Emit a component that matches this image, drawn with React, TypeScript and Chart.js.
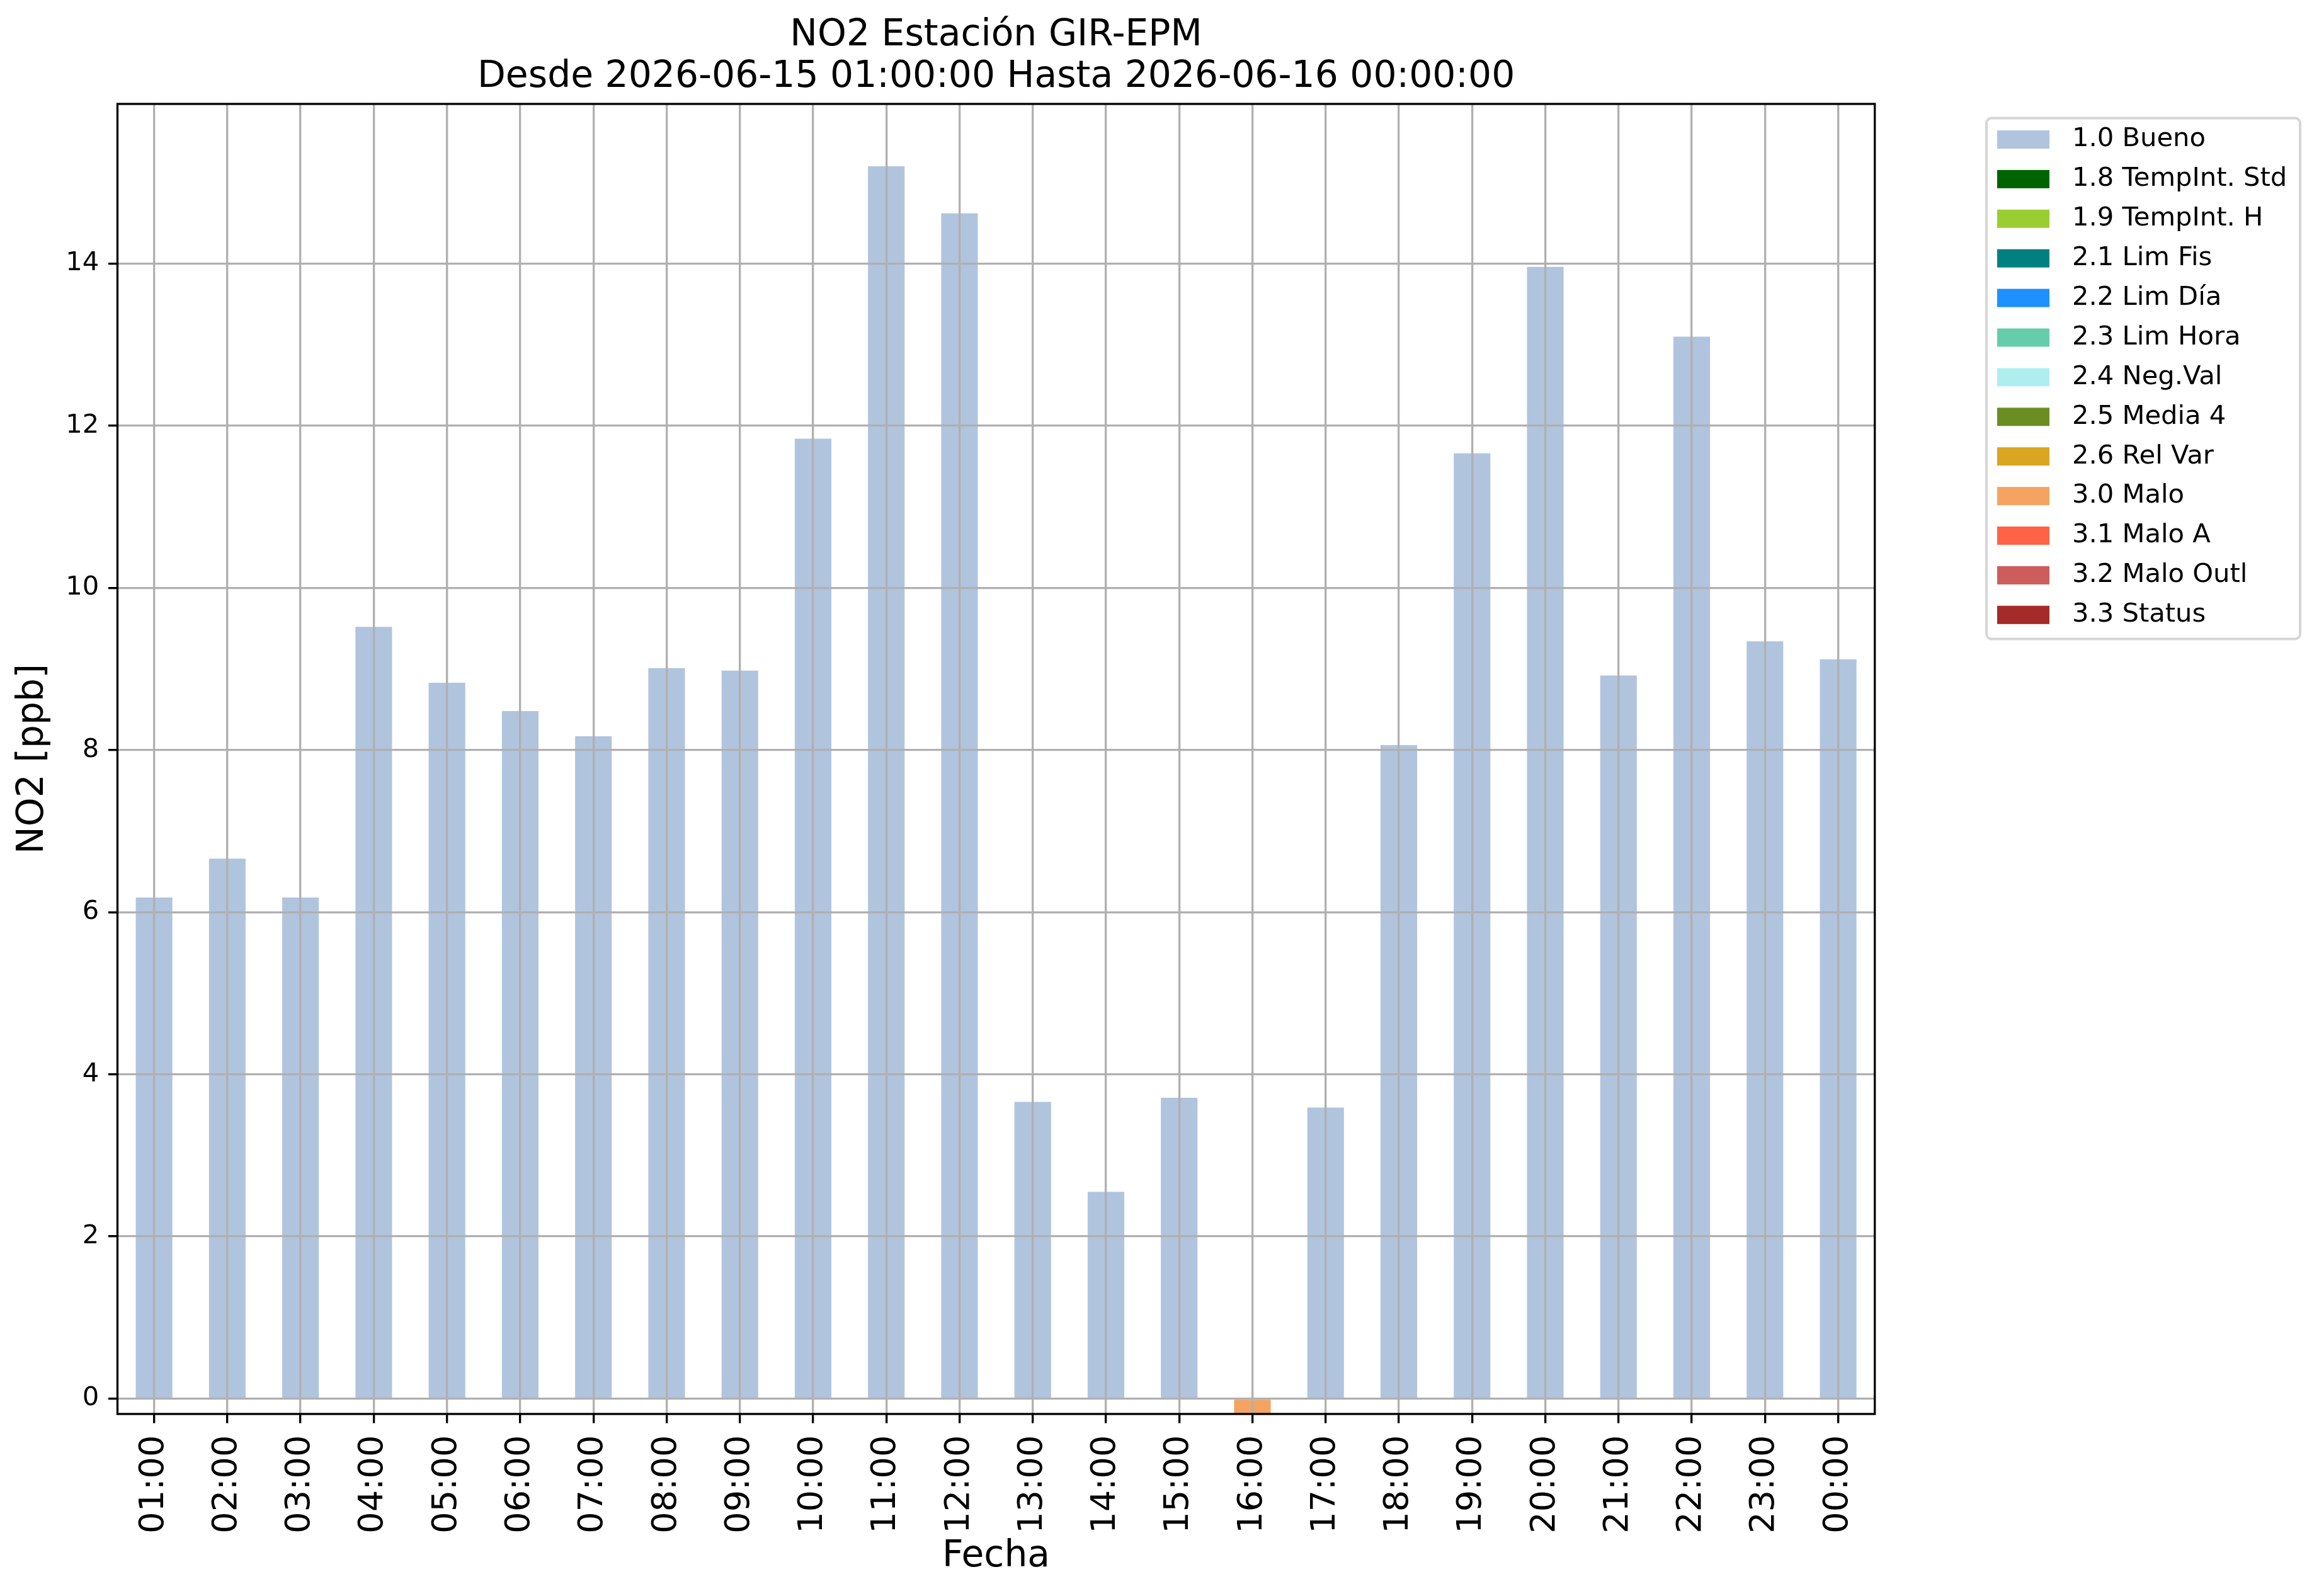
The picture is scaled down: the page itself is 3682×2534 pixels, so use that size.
import React, { useEffect, useRef } from 'react';
import { Chart, registerables } from 'chart.js';

Chart.register(...registerables);

// ---- data ----
const categories = [
  '01:00', '02:00', '03:00', '04:00', '05:00', '06:00', '07:00', '08:00',
  '09:00', '10:00', '11:00', '12:00', '13:00', '14:00', '15:00', '16:00',
  '17:00', '18:00', '19:00', '20:00', '21:00', '22:00', '23:00', '00:00',
];

const buenoValues = [
  6.18, 6.66, 6.18, 9.52, 8.83, 8.48, 8.17, 9.01,
  8.98, 11.84, 15.2, 14.62, 3.66, 2.55, 3.71, null,
  3.59, 8.06, 11.66, 13.96, 8.92, 13.1, 9.34, 9.12,
];

const maloValues = [
  null, null, null, null, null, null, null, null,
  null, null, null, null, null, null, null, -0.19,
  null, null, null, null, null, null, null, null,
];

const flagLabels = [
  '1.0 Bueno', '1.8 TempInt. Std', '1.9 TempInt. H', '2.1 Lim Fis', '2.2 Lim Día',
  '2.3 Lim Hora', '2.4 Neg.Val', '2.5 Media 4', '2.6 Rel Var', '3.0 Malo',
  '3.1 Malo A', '3.2 Malo Outl', '3.3 Status',
];

const flagColors = [
  '#B0C4DE', '#006400', '#9ACD32', '#008080', '#1E90FF',
  '#66CDAA', '#AFEEEE', '#6B8E23', '#DAA520', '#F4A460',
  '#FF6347', '#CD5C5C', '#A52A2A',
];

const yTicks = [0, 2, 4, 6, 8, 10, 12, 14];

const titleLines = ['NO2 Estación GIR-EPM', 'Desde 2026-06-15 01:00:00 Hasta 2026-06-16 00:00:00'];

// ---- styling constants ----
const W = 3682;
const H = 2534;
const PT = 300 / 72; // px per point
const FONT = 'DejaVu Sans';

const seriesFor = (label: string) => {
  if (label === '1.0 Bueno') return buenoValues;
  if (label === '3.0 Malo') return maloValues;
  return categories.map(() => null);
};

const framePlugin = {
  id: 'axesFrame',
  afterDraw(chart: any) {
    const { ctx, chartArea } = chart;
    ctx.save();
    ctx.strokeStyle = '#000';
    ctx.lineWidth = 0.8 * PT;
    ctx.strokeRect(chartArea.left, chartArea.top, chartArea.right - chartArea.left, chartArea.bottom - chartArea.top);
    ctx.restore();
  },
};

const legendPlugin = {
  id: 'mplLegend',
  afterDraw(chart: any) {
    const ctx = chart.ctx;
    const x0 = 3154, y0 = 187.5, x1 = 3652, y1 = 1014.5, r = 8;
    ctx.save();
    ctx.beginPath();
    ctx.moveTo(x0 + r, y0);
    ctx.lineTo(x1 - r, y0);
    ctx.arcTo(x1, y0, x1, y0 + r, r);
    ctx.lineTo(x1, y1 - r);
    ctx.arcTo(x1, y1, x1 - r, y1, r);
    ctx.lineTo(x0 + r, y1);
    ctx.arcTo(x0, y1, x0, y1 - r, r);
    ctx.lineTo(x0, y0 + r);
    ctx.arcTo(x0, y0, x0 + r, y0, r);
    ctx.closePath();
    ctx.fillStyle = 'rgba(255,255,255,0.8)';
    ctx.fill();
    ctx.strokeStyle = '#d6d6d6';
    ctx.lineWidth = 4;
    ctx.stroke();
    const fs = 10 * PT;
    ctx.font = `${fs}px "${FONT}"`;
    ctx.textBaseline = 'middle';
    ctx.textAlign = 'left';
    chart.data.datasets.forEach((ds: any, i: number) => {
      const cy = 221.5 + i * 62.9;
      ctx.fillStyle = ds.backgroundColor;
      ctx.fillRect(3171, cy - 14.5, 83, 29);
      ctx.fillStyle = '#000';
      ctx.fillText(ds.label, 3290, cy);
    });
    ctx.restore();
  },
};

export default function App() {
  const canvasRef = useRef<HTMLCanvasElement | null>(null);

  useEffect(() => {
    document.body.style.margin = '0';
    const canvas = canvasRef.current;
    if (!canvas) return;
    Chart.defaults.font.family = FONT;
    Chart.defaults.color = '#000';

    const chart = new Chart(canvas, {
      type: 'bar',
      data: {
        labels: categories,
        datasets: flagLabels.map((label, i) => ({
          label,
          data: seriesFor(label),
          backgroundColor: flagColors[i],
          borderWidth: 0,
          barPercentage: 0.5,
          categoryPercentage: 1.0,
        })),
      },
      options: {
        responsive: false,
        animation: false,
        devicePixelRatio: 1,
        layout: { padding: { left: 0, top: 0, right: 705.3, bottom: 0 } },
        plugins: {
          legend: { display: false },
          tooltip: { enabled: false },
          title: {
            display: true,
            text: titleLines,
            fullSize: false,
            color: '#000',
            font: { family: FONT, size: 14 * PT, weight: 'normal', lineHeight: 66 / (14 * PT) },
            padding: { top: 23.5, bottom: 9.5 },
          },
        },
        scales: {
          x: {
            stacked: true,
            offset: true,
            border: { display: false },
            grid: {
              z: 1,
              offset: false,
              color: '#b0b0b0',
              lineWidth: 0.8 * PT,
              tickColor: '#000',
              tickWidth: 0.8 * PT,
              tickLength: 3.5 * PT,
            },
            ticks: {
              z: 1,
              autoSkip: false,
              minRotation: 90,
              maxRotation: 90,
              padding: 19,
              color: '#000',
              font: { family: FONT, size: 13 * PT },
            },
            title: {
              display: true,
              text: 'Fecha',
              color: '#000',
              font: { family: FONT, size: 14 * PT, lineHeight: 1.2 },
              padding: { top: 0, bottom: 27 },
            },
            afterFit(scale: any) {
              scale.height = 289;
            },
          },
          y: {
            stacked: true,
            min: -0.19,
            max: 15.97,
            border: { display: false },
            grid: {
              z: 1,
              color: '#b0b0b0',
              lineWidth: 0.8 * PT,
              tickColor: '#000',
              tickWidth: 0.8 * PT,
              tickLength: 3.5 * PT,
            },
            ticks: {
              z: 1,
              padding: 3.5 * PT,
              color: '#000',
              font: { family: FONT, size: 10 * PT },
            },
            afterBuildTicks(scale: any) {
              scale.ticks = yTicks.map((v) => ({ value: v }));
            },
            title: {
              display: true,
              text: 'NO2 [ppb]',
              color: '#000',
              font: { family: FONT, size: 14 * PT, lineHeight: 1.2 },
              padding: { top: 18, bottom: 0 },
            },
            afterFit(scale: any) {
              scale.width = 186.5;
            },
          },
        },
      },
      plugins: [framePlugin, legendPlugin],
    } as any);

    return () => chart.destroy();
  }, []);

  return (
    <div style={{ position: 'absolute', left: 0, top: 0, width: W, height: H, background: '#fff' }}>
      <canvas ref={canvasRef} width={W} height={H} style={{ width: W, height: H, display: 'block' }} />
    </div>
  );
}
